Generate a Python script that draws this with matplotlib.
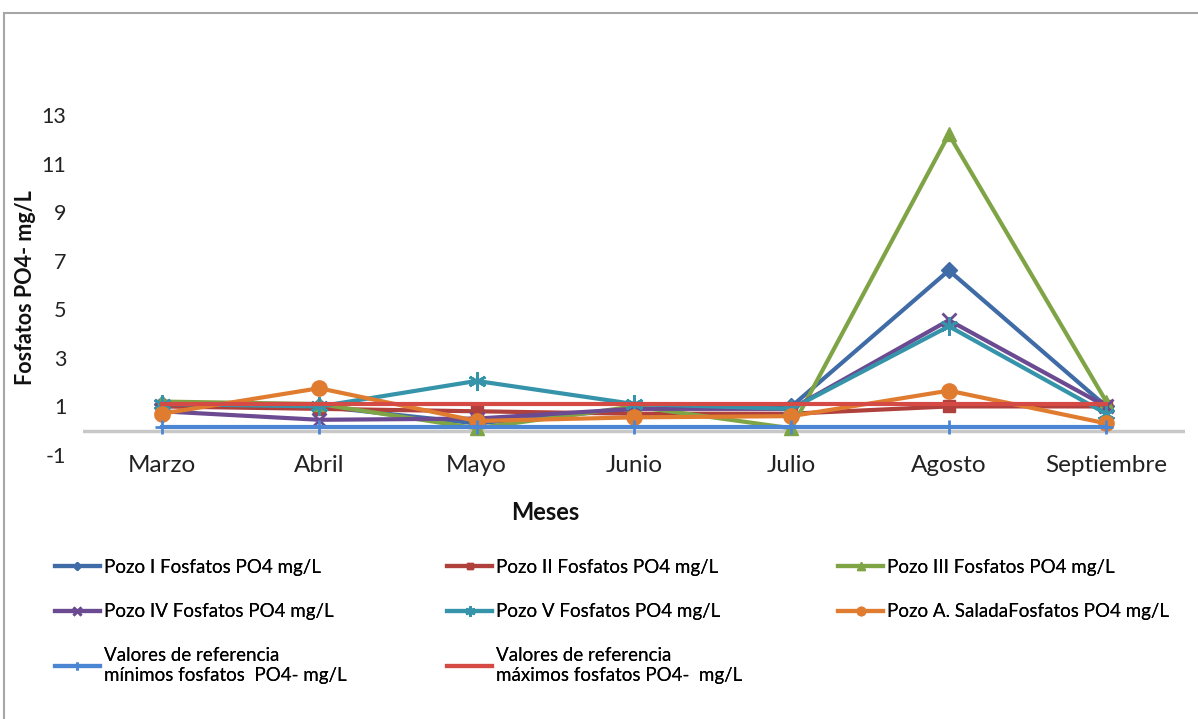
import matplotlib
matplotlib.use('Agg')
import matplotlib.pyplot as plt
from matplotlib.patches import Rectangle

plt.rcParams['font.family'] = ['Lato', 'DejaVu Sans']

meses = ['Marzo', 'Abril', 'Mayo', 'Junio', 'Julio', 'Agosto', 'Septiembre']
pozo_1 = [1.1, 1.0, 0.3, 0.9, 1.0, 6.6, 1.0]
pozo_2 = [1.0, 0.9, 0.8, 0.7, 0.7, 1.0, 1.0]
pozo_3 = [1.2, 1.1, 0.1, 1.0, 0.1, 12.2, 1.2]
pozo_4 = [0.8, 0.45, 0.5, 0.9, 0.9, 4.55, 1.0]
pozo_5 = [1.1, 1.0, 2.05, 1.1, 0.9, 4.3, 0.7]
pozo_salada = [0.7, 1.75, 0.4, 0.55, 0.6, 1.65, 0.3]
ref_min = [0.15] * 7
ref_max = [1.1] * 7
y_ticks = [-1, 1, 3, 5, 7, 9, 11, 13]

W, H = 1198, 719
fig = plt.figure(figsize=(W / 100, H / 100), dpi=100)
ax = fig.add_axes([83 / W, 1 - 455 / H, (1185 - 83) / W, (455 - 115) / H])

x = list(range(len(meses)))
series = [
    ('Pozo I Fosfatos PO4 mg/L', pozo_1, '#3F6BA6', 'D', 8),
    ('Pozo II Fosfatos PO4 mg/L', pozo_2, '#B0403C', 's', 8),
    ('Pozo III Fosfatos PO4 mg/L', pozo_3, '#7FA445', '^', 10),
    ('Pozo IV Fosfatos PO4 mg/L', pozo_4, '#6B4A91', 'x', 10),
    ('Pozo V Fosfatos PO4 mg/L', pozo_5, '#3594AA', (6, 2, 0), 13),
    ('Pozo A. SaladaFosfatos PO4 mg/L', pozo_salada, '#E07C30', 'o', 11),
    ('Valores de referencia\nmínimos fosfatos  PO4- mg/L', ref_min, '#4A86D4', '+', 10),
    ('Valores de referencia\nmáximos fosfatos PO4-  mg/L', ref_max, '#D54A45', None, 0),
]

ax.axhline(0, color='#C8C8C8', lw=2.5, zorder=1)

handles = []
for label, vals, color, marker, ms in series:
    line, = ax.plot(x, vals, color=color, lw=3, marker=marker, markersize=ms,
                    markeredgewidth=2 if marker in ('x', '+', (6, 2, 0)) else 1,
                    markeredgecolor=color, label=label, clip_on=False, zorder=3)
    handles.append(line)

ax.set_xlim(-0.5, 6.5)
ax.set_ylim(-1, 13)
ax.set_xticks(x)
ax.set_xticklabels(meses, fontsize=17.5, color='#222222')
ax.set_yticks(y_ticks)
ax.set_yticklabels([str(t) for t in y_ticks], fontsize=15.5, color='#222222')
ax.tick_params(length=0)
ax.tick_params(axis='y', pad=12)
ax.tick_params(axis='x', pad=0)
for s in ax.spines.values():
    s.set_visible(False)

fig.text(26 / W, 1 - 288 / H, 'Fosfatos PO4- mg/L', rotation=90, fontsize=15.5,
         fontweight='bold', ha='center', va='center', color='#111111')
fig.text(545 / W, 1 - 512 / H, 'Meses', fontsize=17, fontweight='bold',
         ha='center', va='center', color='#111111')

# legend, one per column so the columns sit where Excel put them
cols = [(55, [0, 3, 6]), (447, [1, 4, 7]), (838, [2, 5])]
for x0, idx in cols:
    leg = fig.legend([handles[i] for i in idx], [series[i][0] for i in idx],
                     loc='upper left', bbox_to_anchor=(x0 / W, 1 - 559 / H),
                     frameon=False, fontsize=13.5, handlelength=2.4,
                     handletextpad=0.2, labelspacing=1.45, borderpad=0,
                     borderaxespad=0, markerscale=0.55)
    fig.add_artist(leg)

fig.add_artist(Rectangle((4 / W, -0.1), 1.2, 1 - 13 / H + 0.1,
                         transform=fig.transFigure, fill=False,
                         edgecolor='#A6A6A6', lw=1.5))

fig.savefig('out.png', dpi=100)
